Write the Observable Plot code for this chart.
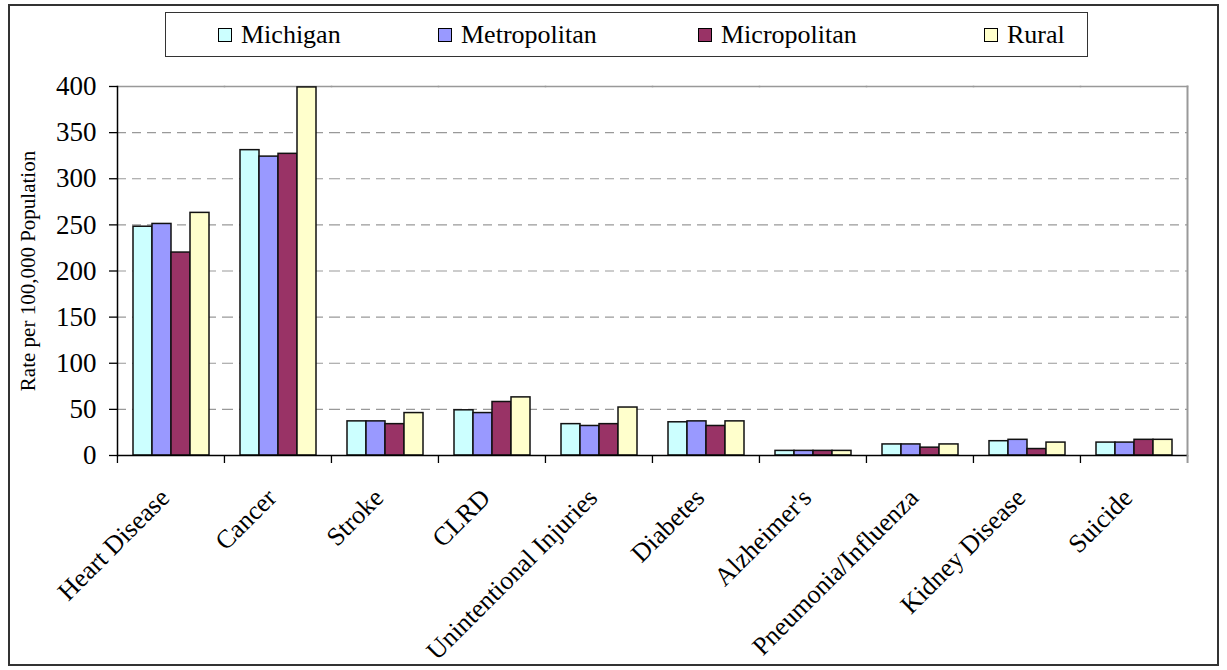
<!DOCTYPE html>
<html><head><meta charset="utf-8">
<script src="https://cdn.jsdelivr.net/npm/d3@7"></script>
<script src="https://cdn.jsdelivr.net/npm/@observablehq/plot@0.6"></script>
<style>
body{margin:0;background:#fff;}
#wrap{position:relative;width:1227px;height:670px;overflow:hidden;font-family:"Liberation Serif",serif;color:#000;}
#border{position:absolute;left:8px;top:4px;width:1211px;height:662px;border:2px solid #333;box-sizing:border-box;}
#legend{position:absolute;left:165px;top:12px;width:923px;height:45px;border:1.5px solid #333;box-sizing:border-box;background:#fff;}
.item{position:absolute;top:0;height:100%;display:flex;align-items:center;font-family:"Liberation Serif",serif;font-size:26px;white-space:nowrap;}
.sw{width:12px;height:12px;border:1.5px solid #000;margin-right:9px;}
#chart{position:absolute;left:0;top:0;}
</style></head>
<body><div id="wrap"><div id="border"></div><div id="chart"></div><div id="legend"></div></div>
<script>
const causes = ["Heart Disease","Cancer","Stroke","CLRD","Unintentional Injuries","Diabetes","Alzheimer's","Pneumonia/Influenza","Kidney Disease","Suicide"];
const series = ["Michigan","Metropolitan","Micropolitan","Rural"];
const michigan     = [248, 331, 37, 49, 34, 36, 5, 12, 15.5, 14];
const metropolitan = [251, 324, 37, 46, 32, 37, 5, 12, 17, 14];
const micropolitan = [220, 327, 34, 58, 34, 32, 5, 8.5, 7, 17];
const rural        = [263, 399, 46, 63, 52, 37, 5, 12, 14, 17];
const colors = ["#CCFFFF","#9999FF","#993366","#FFFFCC"];
const yTicks = [0,50,100,150,200,250,300,350,400];
const gridTicks = [50,100,150,200,250,300,350];
const yTitle = "Rate per 100,000 Population";

const seriesValues = [michigan, metropolitan, micropolitan, rural];
const data = causes.flatMap((c, i) => series.map((s, j) => ({cause: c, series: s, value: seriesValues[j][i]})));

const W = 1227, H = 670, ML = 116, MR = 40, MT = 86, MB = 215;
const bw = (W - ML - MR) / causes.length;

const chart = Plot.plot({
  width: W, height: H,
  marginLeft: ML, marginRight: MR, marginTop: MT, marginBottom: MB,
  style: {fontFamily: '"Liberation Serif", serif', background: "transparent", color: "#000"},
  fx: {domain: causes, padding: 0, label: null},
  x: {domain: series, paddingInner: 0, paddingOuter: 0.73, axis: null},
  y: {domain: [0, 400], label: null},
  color: {domain: series, range: colors},
  marks: [
    Plot.gridY(gridTicks, {stroke: "#999", strokeOpacity: 1, strokeDasharray: "9,6", strokeWidth: 1.2}),
    Plot.frame({anchor: "top", stroke: "#999", strokeWidth: 1.5}),
    Plot.frame({anchor: "right", stroke: "#999", strokeWidth: 2, facetAnchor: "right"}),
    Plot.barY(data, {fx: "cause", x: "series", y: "value", fill: "series", stroke: "#111", strokeWidth: 1.5}),
    Plot.ruleY([0], {stroke: "#000", strokeWidth: 1.5}),
    Plot.frame({anchor: "left", stroke: "#000", strokeWidth: 1.5, facetAnchor: "left"}),
    Plot.axisY({ticks: yTicks, tickSize: 8, tickPadding: 13, fontSize: 27, label: null, strokeWidth: 1.3}),
    Plot.text([yTitle], {frameAnchor: "left", textAnchor: "middle", rotate: -90, dx: -89, fontSize: 21, facetAnchor: "left"}),
    Plot.axisFx({anchor: "bottom", tickSize: 8, dx: -bw / 2, tickFormat: () => "", label: null, strokeWidth: 1.3}),
    Plot.axisFx({anchor: "bottom", ticks: [causes[causes.length - 1]], tickSize: 8, dx: bw / 2, tickFormat: () => "", label: null, stroke: "#999", strokeWidth: 2}),
    Plot.axisFx({anchor: "bottom", tickSize: 0, tickPadding: 38, tickRotate: -45, dx: -6, fontSize: 26, label: null})
  ]
});
document.getElementById("chart").appendChild(chart);

const legendLefts = [52, 272, 532, 818];
const legend = document.getElementById("legend");
series.forEach((s, i) => {
  const it = document.createElement("div");
  it.className = "item";
  it.style.left = legendLefts[i] + "px";
  const sw = document.createElement("span");
  sw.className = "sw";
  sw.style.background = colors[i];
  const t = document.createElement("span");
  t.textContent = s;
  it.appendChild(sw); it.appendChild(t);
  legend.appendChild(it);
});
</script>
</body></html>
